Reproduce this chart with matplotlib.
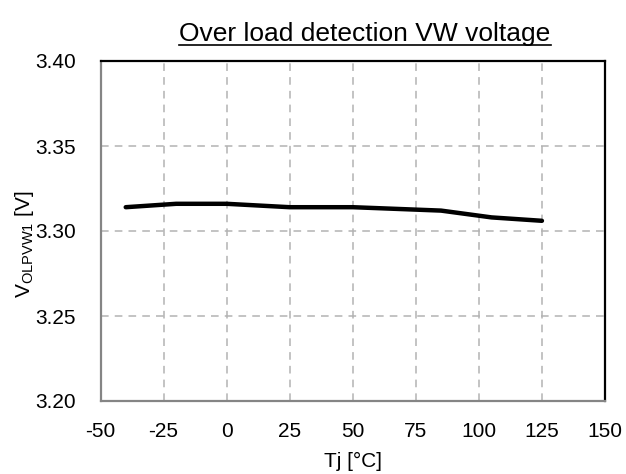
import matplotlib
matplotlib.use("Agg")
import matplotlib.pyplot as plt

temps = [-40, -20, 0, 25, 50, 85, 105, 125]
volts = [3.314, 3.316, 3.316, 3.314, 3.314, 3.312, 3.308, 3.306]
xticks = [-50, -25, 0, 25, 50, 75, 100, 125, 150]
yticks = [3.20, 3.25, 3.30, 3.35, 3.40]

plt.rcParams['font.family'] = ['Liberation Sans', 'DejaVu Sans']
plt.rcParams['mathtext.fontset'] = 'custom'
plt.rcParams['mathtext.rm'] = 'Liberation Sans'
plt.rcParams['mathtext.it'] = 'Liberation Sans'

fig = plt.figure(figsize=(6.26, 4.74), dpi=100)
ax = fig.add_axes([100.5/626, 1-401/474, (605-100.5)/626, (401-61)/474])

ax.plot(temps, volts, color='black', lw=3.2, solid_capstyle='round', solid_joinstyle='round')

ax.set_xlim(-50, 150)
ax.set_ylim(3.20, 3.40)
ax.set_xticks(xticks)
ax.set_yticks(yticks)
ax.set_xticklabels([str(t) for t in xticks])
ax.set_yticklabels([f"{v:.2f}" for v in yticks])
ax.tick_params(axis='both', length=0, labelsize=15, colors='black')
ax.tick_params(axis='x', pad=15)
ax.tick_params(axis='y', pad=18)

ax.grid(True, color='#b3b3b3', linestyle=(0, (5, 4)), lw=1.1)
ax.set_axisbelow(True)

for s in ['left', 'bottom']:
    ax.spines[s].set_color('#858585')
    ax.spines[s].set_linewidth(1.6)
for s in ['top', 'right']:
    ax.spines[s].set_color('black')
    ax.spines[s].set_linewidth(1.6)

ax.text(-0.15, 0.46, r'V$_{\mathrm{OLPVW1}}$ [V]', fontsize=15, rotation=90,
        ha='center', va='center', transform=ax.transAxes)
ax.text(0.5, (401-467)/340, 'Tj [°C]', fontsize=15, ha='center', va='baseline',
        transform=ax.transAxes)

title = fig.text(365/626, 1-41/474, 'Over load detection VW voltage', fontsize=19,
                 ha='center', va='baseline')
fig.canvas.draw()
bb = title.get_window_extent().transformed(fig.transFigure.inverted())
uy = 1-44.5/474
fig.add_artist(plt.Line2D([bb.x0, bb.x1], [uy, uy], transform=fig.transFigure,
                          color='black', lw=1.2))

fig.savefig('out.png', dpi=100)
